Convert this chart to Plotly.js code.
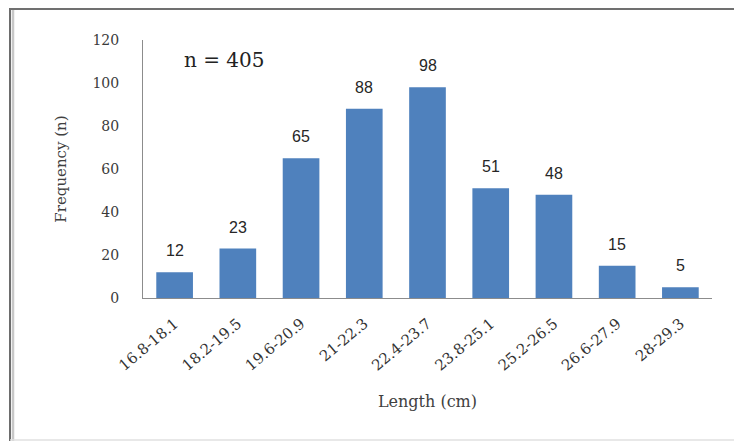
<!DOCTYPE html>
<html>
<head>
<meta charset="utf-8">
<script src="https://cdn.plot.ly/plotly-3.0.1.min.js"></script>
<style>
html,body{margin:0;padding:0;background:#fff;}
#chart{width:734px;height:441px;}
</style>
</head>
<body>
<div id="chart"></div>
<script>
const categories = ["16.8-18.1","18.2-19.5","19.6-20.9","21-22.3","22.4-23.7","23.8-25.1","25.2-26.5","26.6-27.9","28-29.3"];
const frequency = [12, 23, 65, 88, 98, 51, 48, 15, 5];
const yTicks = [0, 20, 40, 60, 80, 100, 120];

const W = 734, H = 441;
const L = 143, R = 22, T = 40, B = 143;
const pw = W - L - R, ph = H - T - B;
const px = x => (x - L) / pw;
const py = y => (H - B - y) / ph;

const trace = {
  type: 'bar',
  x: categories,
  y: frequency,
  marker: {color: '#4f81bd', line: {width: 0}},
  hoverinfo: 'skip'
};

const labelAnnotations = categories.map((c, i) => ({
  x: c, y: frequency[i], xref: 'x', yref: 'y',
  text: String(frequency[i]), showarrow: false,
  yanchor: 'bottom', yshift: 11,
  font: {family: 'Liberation Sans, Arial, sans-serif', size: 16, color: '#262626'}
}));

const layout = {
  width: W, height: H,
  margin: {l: L, r: R, t: T, b: B, pad: 0},
  paper_bgcolor: '#ffffff',
  plot_bgcolor: '#ffffff',
  showlegend: false,
  bargap: 0.42,
  xaxis: {
    type: 'category',
    showline: true, linecolor: '#8c8c8c', linewidth: 1,
    ticks: '', showgrid: false, zeroline: false,
    tickangle: -40,
    ticklabelstandoff: 10,
    tickfont: {family: 'DejaVu Serif, Liberation Serif, serif', size: 15, color: '#333333'},
    title: {text: 'Length (cm)', standoff: 22,
      font: {family: 'DejaVu Serif, Liberation Serif, serif', size: 16, color: '#404040'}}
  },
  yaxis: {
    range: [0, 120],
    tickvals: yTicks,
    ticktext: yTicks.map(String),
    showline: true, linecolor: '#8c8c8c', linewidth: 1,
    ticks: '', showgrid: false, zeroline: false,
    ticklabelstandoff: 20,
    tickfont: {family: 'DejaVu Serif, Liberation Serif, serif', size: 14, color: '#3a3a3a'},
    title: {text: 'Frequency (n)', standoff: 22,
      font: {family: 'DejaVu Serif, Liberation Serif, serif', size: 15, color: '#404040'}}
  },
  annotations: [
    {xref: 'paper', yref: 'paper', x: px(224), y: py(60),
     text: 'n = 405', showarrow: false, xanchor: 'center', yanchor: 'middle',
     font: {family: 'DejaVu Serif, Liberation Serif, serif', size: 20, color: '#222222'}}
  ].concat(labelAnnotations),
  shapes: [
    {type: 'line', xref: 'paper', yref: 'paper', x0: px(10), x1: px(10), y0: py(8), y1: py(441), line: {color: '#3c3c3c', width: 1.5}},
    {type: 'line', xref: 'paper', yref: 'paper', x0: px(13), x1: px(13), y0: py(9), y1: py(441), line: {color: '#c8c8c8', width: 2.5}},
    {type: 'line', xref: 'paper', yref: 'paper', x0: px(10), x1: px(734), y0: py(9), y1: py(9), line: {color: '#707070', width: 2}},
    {type: 'line', xref: 'paper', yref: 'paper', x0: px(10), x1: px(734), y0: py(440), y1: py(440), line: {color: '#e0e0e0', width: 1.5}}
  ]
};

Plotly.newPlot('chart', [trace], layout, {staticPlot: true, displayModeBar: false});
</script>
</body>
</html>
